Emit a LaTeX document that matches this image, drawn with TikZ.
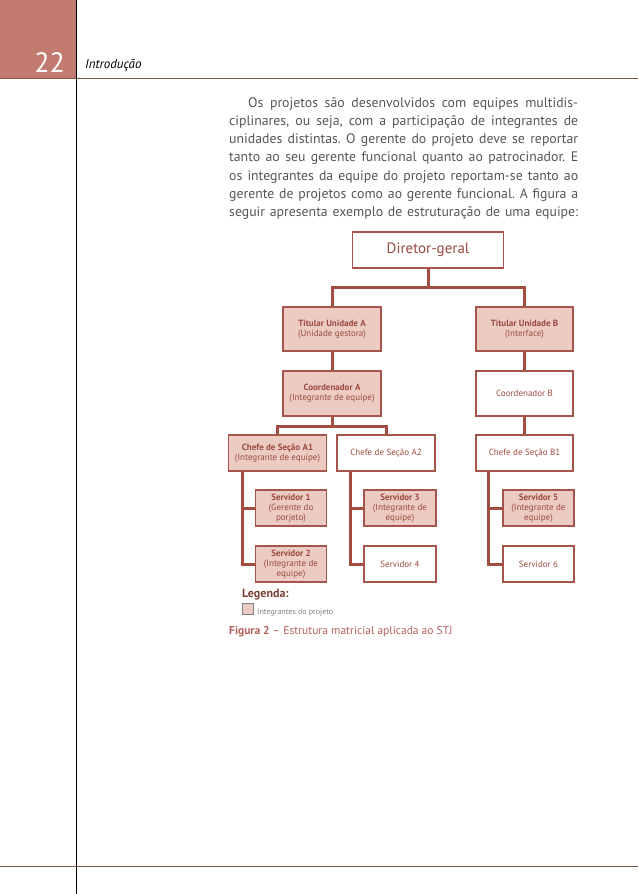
\documentclass[tikz,border=0pt]{standalone}
\usepackage{fontspec}
\setmainfont{PT Sans}
\frenchspacing
\definecolor{headred}{HTML}{C47B6F}
\definecolor{rulebrown}{HTML}{7E5A4A}
\definecolor{boxline}{HTML}{A5554A}
\definecolor{boxfill}{HTML}{EBCBC2}
\definecolor{boxtext}{HTML}{9C4A40}
\definecolor{linkred}{HTML}{A34C40}
\definecolor{bodytext}{HTML}{555555}
\definecolor{captext}{HTML}{B3605A}
\definecolor{legtext}{HTML}{7A4034}
\newcommand{\jline}[1]{\makebox[349pt][s]{#1}}

\begin{document}
\begin{tikzpicture}[x=1pt,y=-1pt,
    box/.style={draw=boxline,line width=1.2pt,fill=white,align=center,text=boxtext,inner sep=1pt,
        font=\fontsize{9}{10}\selectfont},
    member/.style={box,fill=boxfill},
    link/.style={draw=linkred,line width=3pt}]
    \useasboundingbox (0,0) rectangle (638,894);
    \fill[headred] (0,0) rectangle (76,78);
    \draw[rulebrown,line width=1pt] (0,78) -- (638,78);
    \draw[rulebrown,line width=1pt] (0,866) -- (638,866);
    \draw[black,line width=0.8pt] (76,0) -- (76,894);
    \node[anchor=base east,inner sep=0,text=white,font=\fontsize{28}{28}\selectfont] (pagenum) at (65,72) {22};
    \node[anchor=base west,inner sep=0,font=\itshape\fontsize{13}{13}\selectfont] (chapter) at (85,68) {Introdução};
    \node[anchor=base west,inner sep=0,align=left,text=bodytext,font=\fontsize{13.8}{18.25}\selectfont] (intro) at (229,216.5)
        {\jline{\hspace*{19pt}Os projetos são desenvolvidos com equipes multidis-}\\
         \jline{ciplinares, ou seja, com a participação de integrantes de}\\
         \jline{unidades distintas. O gerente do projeto deve se reportar}\\
         \jline{tanto ao seu gerente funcional quanto ao patrocinador. E}\\
         \jline{os integrantes da equipe do projeto reportam-se tanto ao}\\
         \jline{gerente de projetos como ao gerente funcional. A figura a}\\
         \jline{seguir apresenta exemplo de estruturação de uma equipe:}};

    \node[box,minimum width=151pt,minimum height=36pt,font=\fontsize{15}{16}\selectfont] (dir) at (428,250) {Diretor-geral};
    \node[member,minimum width=98pt,minimum height=44pt] (titA) at (332,329) {\textbf{Titular Unidade A}\\(Unidade gestora)};
    \node[member,minimum width=97pt,minimum height=44pt] (titB) at (524.5,329) {\textbf{Titular Unidade B}\\(Interface)};
    \node[member,minimum width=98pt,minimum height=45pt] (coordA) at (332,393.5) {\textbf{Coordenador A}\\(Integrante de equipe)};
    \node[box,minimum width=97pt,minimum height=45pt] (coordB) at (524.5,393.5) {Coordenador B};
    \node[member,minimum width=98pt,minimum height=36pt] (chefeA1) at (277.5,453) {\textbf{Chefe de Seção A1}\\(Integrante de equipe)};
    \node[box,minimum width=98pt,minimum height=36pt] (chefeA2) at (386,453) {Chefe de Seção A2};
    \node[box,minimum width=97pt,minimum height=36pt] (chefeB1) at (524.5,453) {Chefe de Seção B1};
    \node[member,minimum width=71pt,minimum height=36pt] (serv1) at (291,508) {\textbf{Servidor 1}\\(Gerente do\\porjeto)};
    \node[member,minimum width=71pt,minimum height=36pt] (serv2) at (291,564) {\textbf{Servidor 2}\\(Integrante de\\equipe)};
    \node[member,minimum width=72pt,minimum height=36pt] (serv3) at (400,508) {\textbf{Servidor 3}\\(Integrante de\\equipe)};
    \node[box,minimum width=72pt,minimum height=36pt] (serv4) at (400,564) {Servidor 4};
    \node[member,minimum width=71pt,minimum height=36pt] (serv5) at (538.5,508) {\textbf{Servidor 5}\\(Integrante de\\equipe)};
    \node[box,minimum width=71pt,minimum height=36pt] (serv6) at (538.5,564) {Servidor 6};

    \draw[link] (dir.south) -- ++(0,18.5) coordinate (topbar);
    \draw[link] (titA.north) |- (topbar) -| (titB.north);
    \draw[link] (titA.south) -- (coordA.north);
    \draw[link] (titB.south) -- (coordB.north);
    \draw[link] (coordA.south) -- ++(0,9.5) coordinate (midbar);
    \draw[link] (chefeA1.north) |- (midbar) -| (chefeA2.north);
    \draw[link] (coordB.south) -- (chefeB1.north);
    \draw[link] ([xshift=14.5pt]chefeA1.south west) |- (serv1.west);
    \draw[link] ([xshift=14.5pt]chefeA1.south west) |- (serv2.west);
    \draw[link] ([xshift=14pt]chefeA2.south west) |- (serv3.west);
    \draw[link] ([xshift=14pt]chefeA2.south west) |- (serv4.west);
    \draw[link] ([xshift=13.5pt]chefeB1.south west) |- (serv5.west);
    \draw[link] ([xshift=13.5pt]chefeB1.south west) |- (serv6.west);

    \node[anchor=base west,inner sep=0,text=legtext,font=\bfseries\fontsize{12}{12}\selectfont] (legend) at (242,597) {Legenda:};
    \node[draw=gray,line width=0.8pt,fill=boxfill,minimum size=11pt,inner sep=0] (key) at (247.5,609) {};
    \node[anchor=base west,inner sep=0,text=gray,font=\fontsize{8}{9}\selectfont] (keytext) at (257,614) {Integrantes do projeto};
    \node[anchor=base west,inner sep=0,text=captext,font=\fontsize{11.5}{12}\selectfont] (caption) at (229,634) {\textbf{Figura 2} – Estrutura matricial aplicada ao STJ};
\end{tikzpicture}
\end{document}
